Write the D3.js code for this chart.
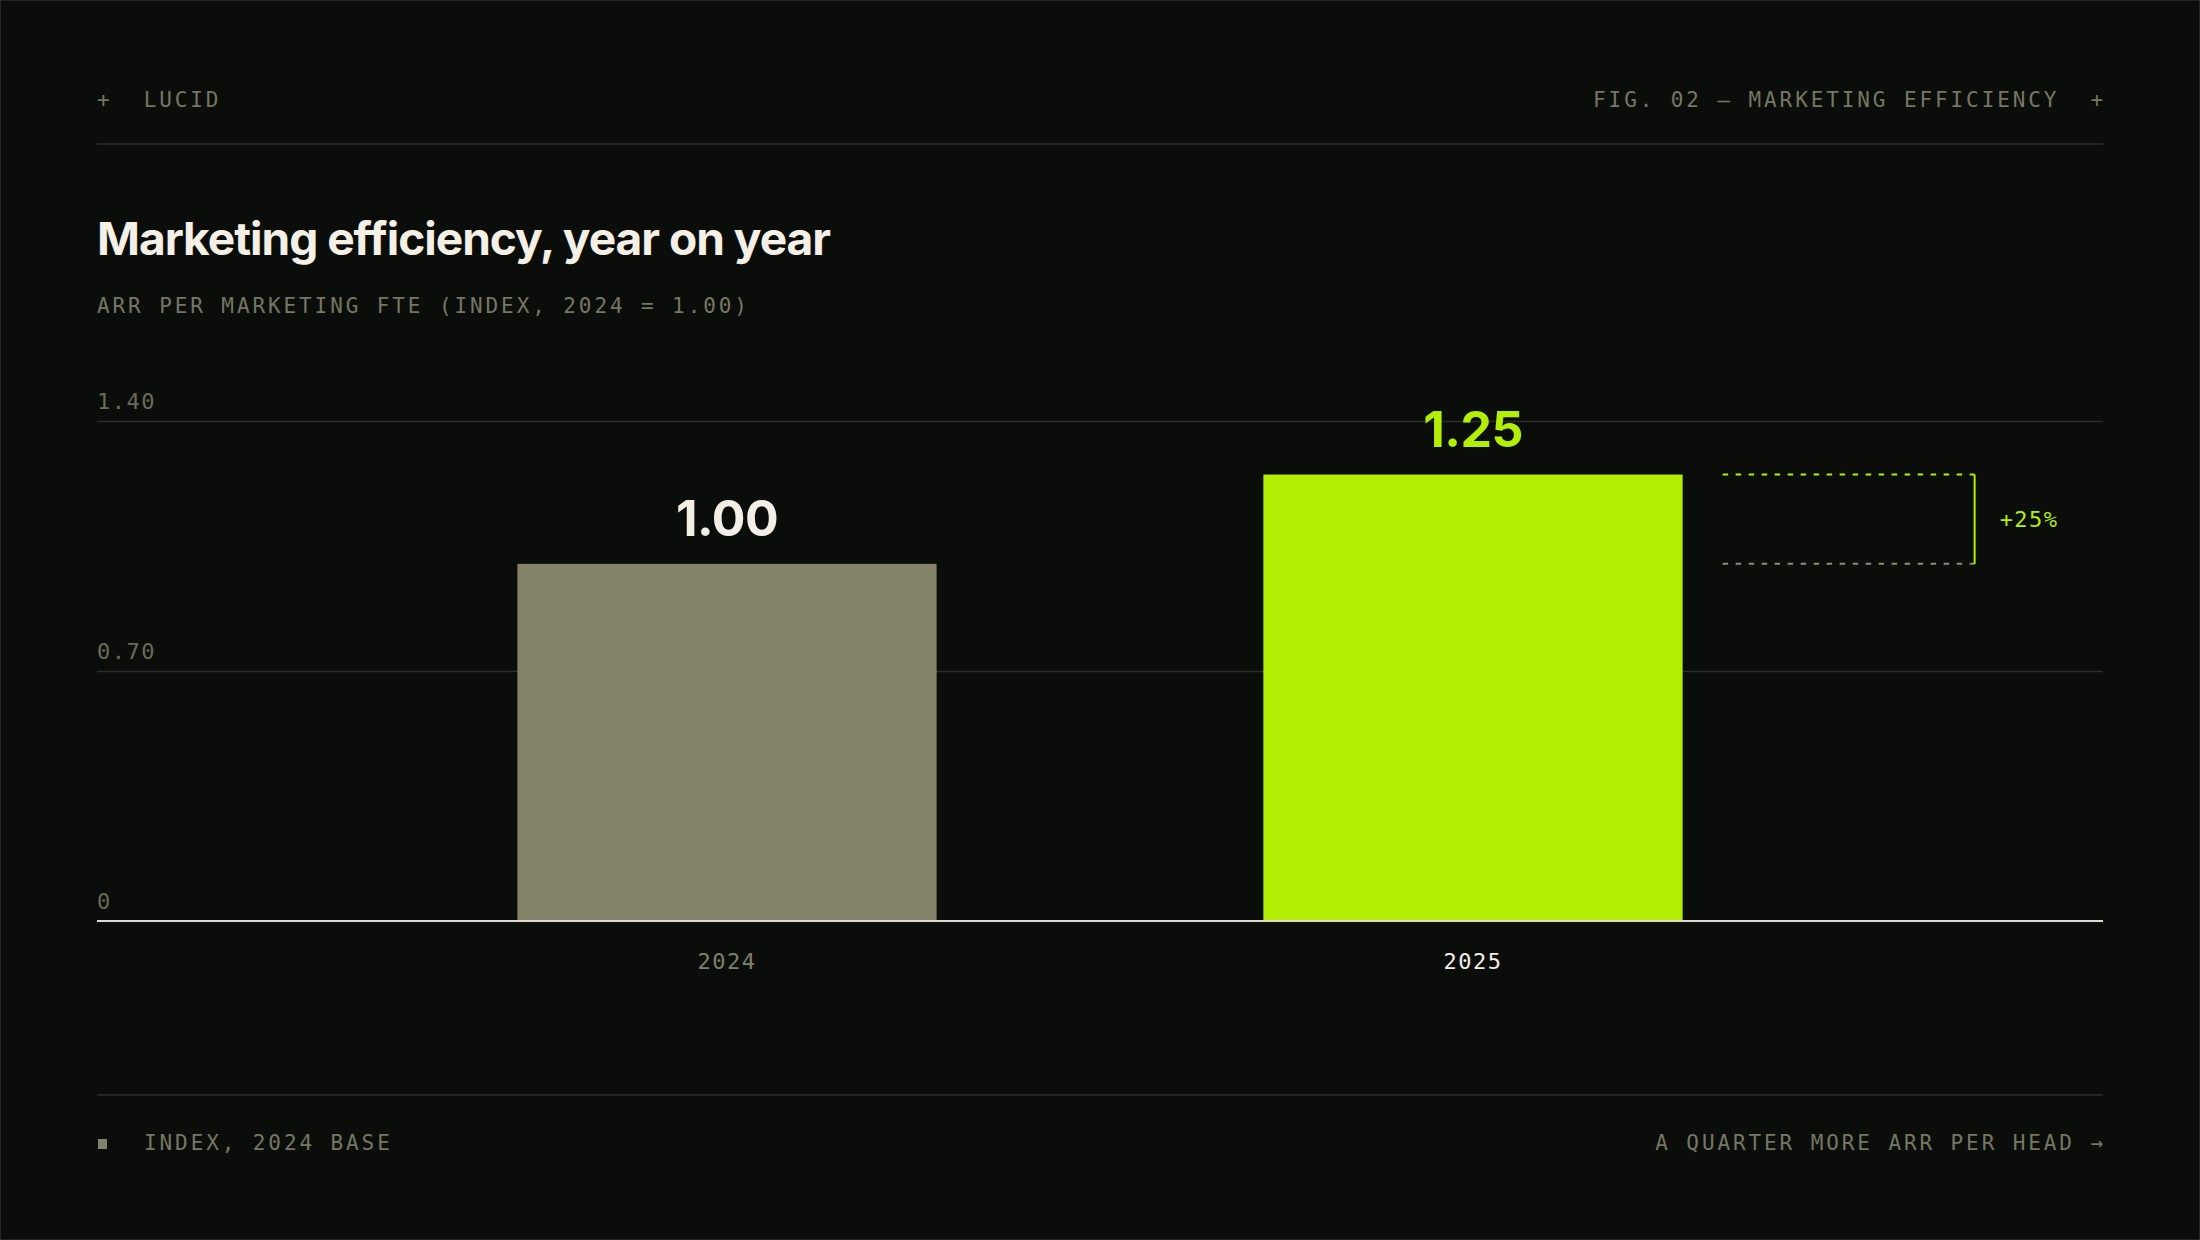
<!DOCTYPE html>
<html>
<head>
<meta charset="utf-8">
<script src="https://cdn.jsdelivr.net/npm/d3@7"></script>
<style>
  html, body { margin: 0; padding: 0; background: #0b0d0b; }
  svg { display: block; }
  .mono { font-family: "DejaVu Sans Mono", "Liberation Mono", monospace; }
  .sans { font-family: Inter, "Noto Sans", sans-serif; }
</style>
</head>
<body>
<svg id="chart"></svg>
<script>
// chart values
const years = ['2024', '2025'];
const values = [1.00, 1.25];
const yTicks = [0, 0.70, 1.40];
const barColors = ['#838269', '#b3ef05'];
const labelColors = ['#f3efe6', '#b3ef05'];
const yearColors = ['#7f806b', '#f3efe6'];
const changeLabel = '+25%';

const W = 2200, H = 1240;
const left = 97, right = 2103;
const muted = '#767762';
const rule = '#2c2e2a';

const svg = d3.select('#chart')
	.attr('width', W)
	.attr('height', H);

svg.append('rect')
	.attr('x', 0.5).attr('y', 0.5)
	.attr('width', W - 1).attr('height', H - 1)
	.attr('fill', '#0b0d0b')
	.attr('stroke', '#262824');

// header
svg.append('text')
	.attr('class', 'mono')
	.attr('x', left).attr('y', 107)
	.attr('fill', muted)
	.style('font-size', '21px')
	.style('letter-spacing', '2.9px')
	.style('white-space', 'pre')
	.text('+  LUCID');

svg.append('text')
	.attr('class', 'mono')
	.attr('x', right + 3).attr('y', 107)
	.attr('text-anchor', 'end')
	.attr('fill', muted)
	.style('font-size', '21px')
	.style('letter-spacing', '2.9px')
	.style('white-space', 'pre')
	.text('FIG. 02 \u2014 MARKETING EFFICIENCY  +');

svg.append('line')
	.attr('x1', left).attr('x2', right)
	.attr('y1', 144).attr('y2', 144)
	.attr('stroke', rule).attr('stroke-width', 1.5);

// title + subtitle
// reference face is a wider grotesque, stretch to its width
svg.append('text')
	.attr('class', 'sans')
	.attr('x', left).attr('y', 255)
	.attr('fill', '#f4f0e6')
	.attr('textLength', 733)
	.attr('lengthAdjust', 'spacingAndGlyphs')
	.style('font-size', '45px')
	.style('font-weight', 700)
	.style('letter-spacing', '-1px')
	.text('Marketing efficiency, year on year');

svg.append('text')
	.attr('class', 'mono')
	.attr('x', left).attr('y', 313)
	.attr('fill', muted)
	.style('font-size', '21px')
	.style('letter-spacing', '2.9px')
	.text('ARR PER MARKETING FTE (INDEX, 2024 = 1.00)');

// scales
const y = d3.scaleLinear()
	.domain([0, 1.40])
	.range([921, 421]);

const x = d3.scaleBand()
	.domain(years)
	.range([left, right])
	.paddingInner(0.438)
	.paddingOuter(0.5635);

// gridlines + tick labels
const yAxis = svg.append('g')
	.attr('transform', 'translate(' + left + ',0)')
	.call(d3.axisRight(y)
		.tickValues(yTicks)
		.tickSize(right - left)
		.tickFormat(d => d === 0 ? '0' : d3.format('.2f')(d)));

yAxis.select('.domain').remove();
yAxis.selectAll('.tick line')
	.attr('stroke', rule)
	.attr('stroke-width', 1.5);
yAxis.selectAll('.tick text')
	.attr('class', 'mono')
	.attr('x', 0)
	.attr('dy', -13)
	.attr('text-anchor', 'start')
	.attr('fill', '#6a6b58')
	.style('font-size', '22px')
	.style('letter-spacing', '1.5px');

// bars
svg.selectAll('.bar')
	.data(values)
	.enter().append('rect')
	.attr('class', 'bar')
	.attr('x', (d, i) => x(years[i]))
	.attr('y', d => y(d))
	.attr('width', x.bandwidth())
	.attr('height', d => y(0) - y(d))
	.attr('fill', (d, i) => barColors[i]);

// baseline
svg.append('line')
	.attr('x1', left).attr('x2', right)
	.attr('y1', y(0)).attr('y2', y(0))
	.attr('stroke', '#dcd9cf')
	.attr('stroke-width', 2);

// value labels
svg.selectAll('.val')
	.data(values)
	.enter().append('text')
	.attr('class', 'val sans')
	.attr('x', (d, i) => x(years[i]) + x.bandwidth() / 2)
	.attr('y', d => y(d) - 28)
	.attr('text-anchor', 'middle')
	.attr('fill', (d, i) => labelColors[i])
	.style('font-size', '50px')
	.style('font-weight', 700)
	.style('letter-spacing', '-0.5px')
	.text(d => d3.format('.2f')(d));

// category axis
const xAxis = svg.append('g')
	.attr('transform', 'translate(0,' + y(0) + ')')
	.call(d3.axisBottom(x).tickSize(0));
xAxis.select('.domain').remove();
xAxis.selectAll('.tick text')
	.attr('class', 'mono')
	.attr('y', 48)
	.attr('dy', 0)
	.attr('fill', (d, i) => yearColors[i])
	.style('font-size', '22px')
	.style('letter-spacing', '1.5px');

// change bracket
const x0 = x(years[1]) + x.bandwidth() + 40;
const x1 = x0 + 252;
const yTop = y(values[1]);
const yBot = y(values[0]);

svg.append('line')
	.attr('x1', x0).attr('x2', x1)
	.attr('y1', yTop).attr('y2', yTop)
	.attr('stroke', barColors[1])
	.attr('stroke-width', 2)
	.attr('stroke-dasharray', '5.5 7.5');

svg.append('line')
	.attr('x1', x0).attr('x2', x1)
	.attr('y1', yBot).attr('y2', yBot)
	.attr('stroke', '#8a8b78')
	.attr('stroke-width', 2)
	.attr('stroke-dasharray', '5.5 7.5');

svg.append('line')
	.attr('x1', x1).attr('x2', x1)
	.attr('y1', yTop).attr('y2', yBot)
	.attr('stroke', barColors[1])
	.attr('stroke-width', 2);

svg.append('text')
	.attr('class', 'mono')
	.attr('x', x1 + 25)
	.attr('y', (yTop + yBot) / 2 + 8)
	.attr('fill', barColors[1])
	.style('font-size', '22px')
	.style('letter-spacing', '1.5px')
	.text(changeLabel);

// footer
svg.append('line')
	.attr('x1', left).attr('x2', right)
	.attr('y1', 1095).attr('y2', 1095)
	.attr('stroke', rule).attr('stroke-width', 1.5);

svg.append('rect')
	.attr('x', 98).attr('y', 1139)
	.attr('width', 9).attr('height', 10)
	.attr('fill', barColors[0]);

svg.append('text')
	.attr('class', 'mono')
	.attr('x', 144).attr('y', 1150)
	.attr('fill', muted)
	.style('font-size', '21px')
	.style('letter-spacing', '2.9px')
	.text('INDEX, 2024 BASE');

svg.append('text')
	.attr('class', 'mono')
	.attr('x', right + 3).attr('y', 1150)
	.attr('text-anchor', 'end')
	.attr('fill', muted)
	.style('font-size', '21px')
	.style('letter-spacing', '2.9px')
	.text('A QUARTER MORE ARR PER HEAD \u2192');
</script>
</body>
</html>
